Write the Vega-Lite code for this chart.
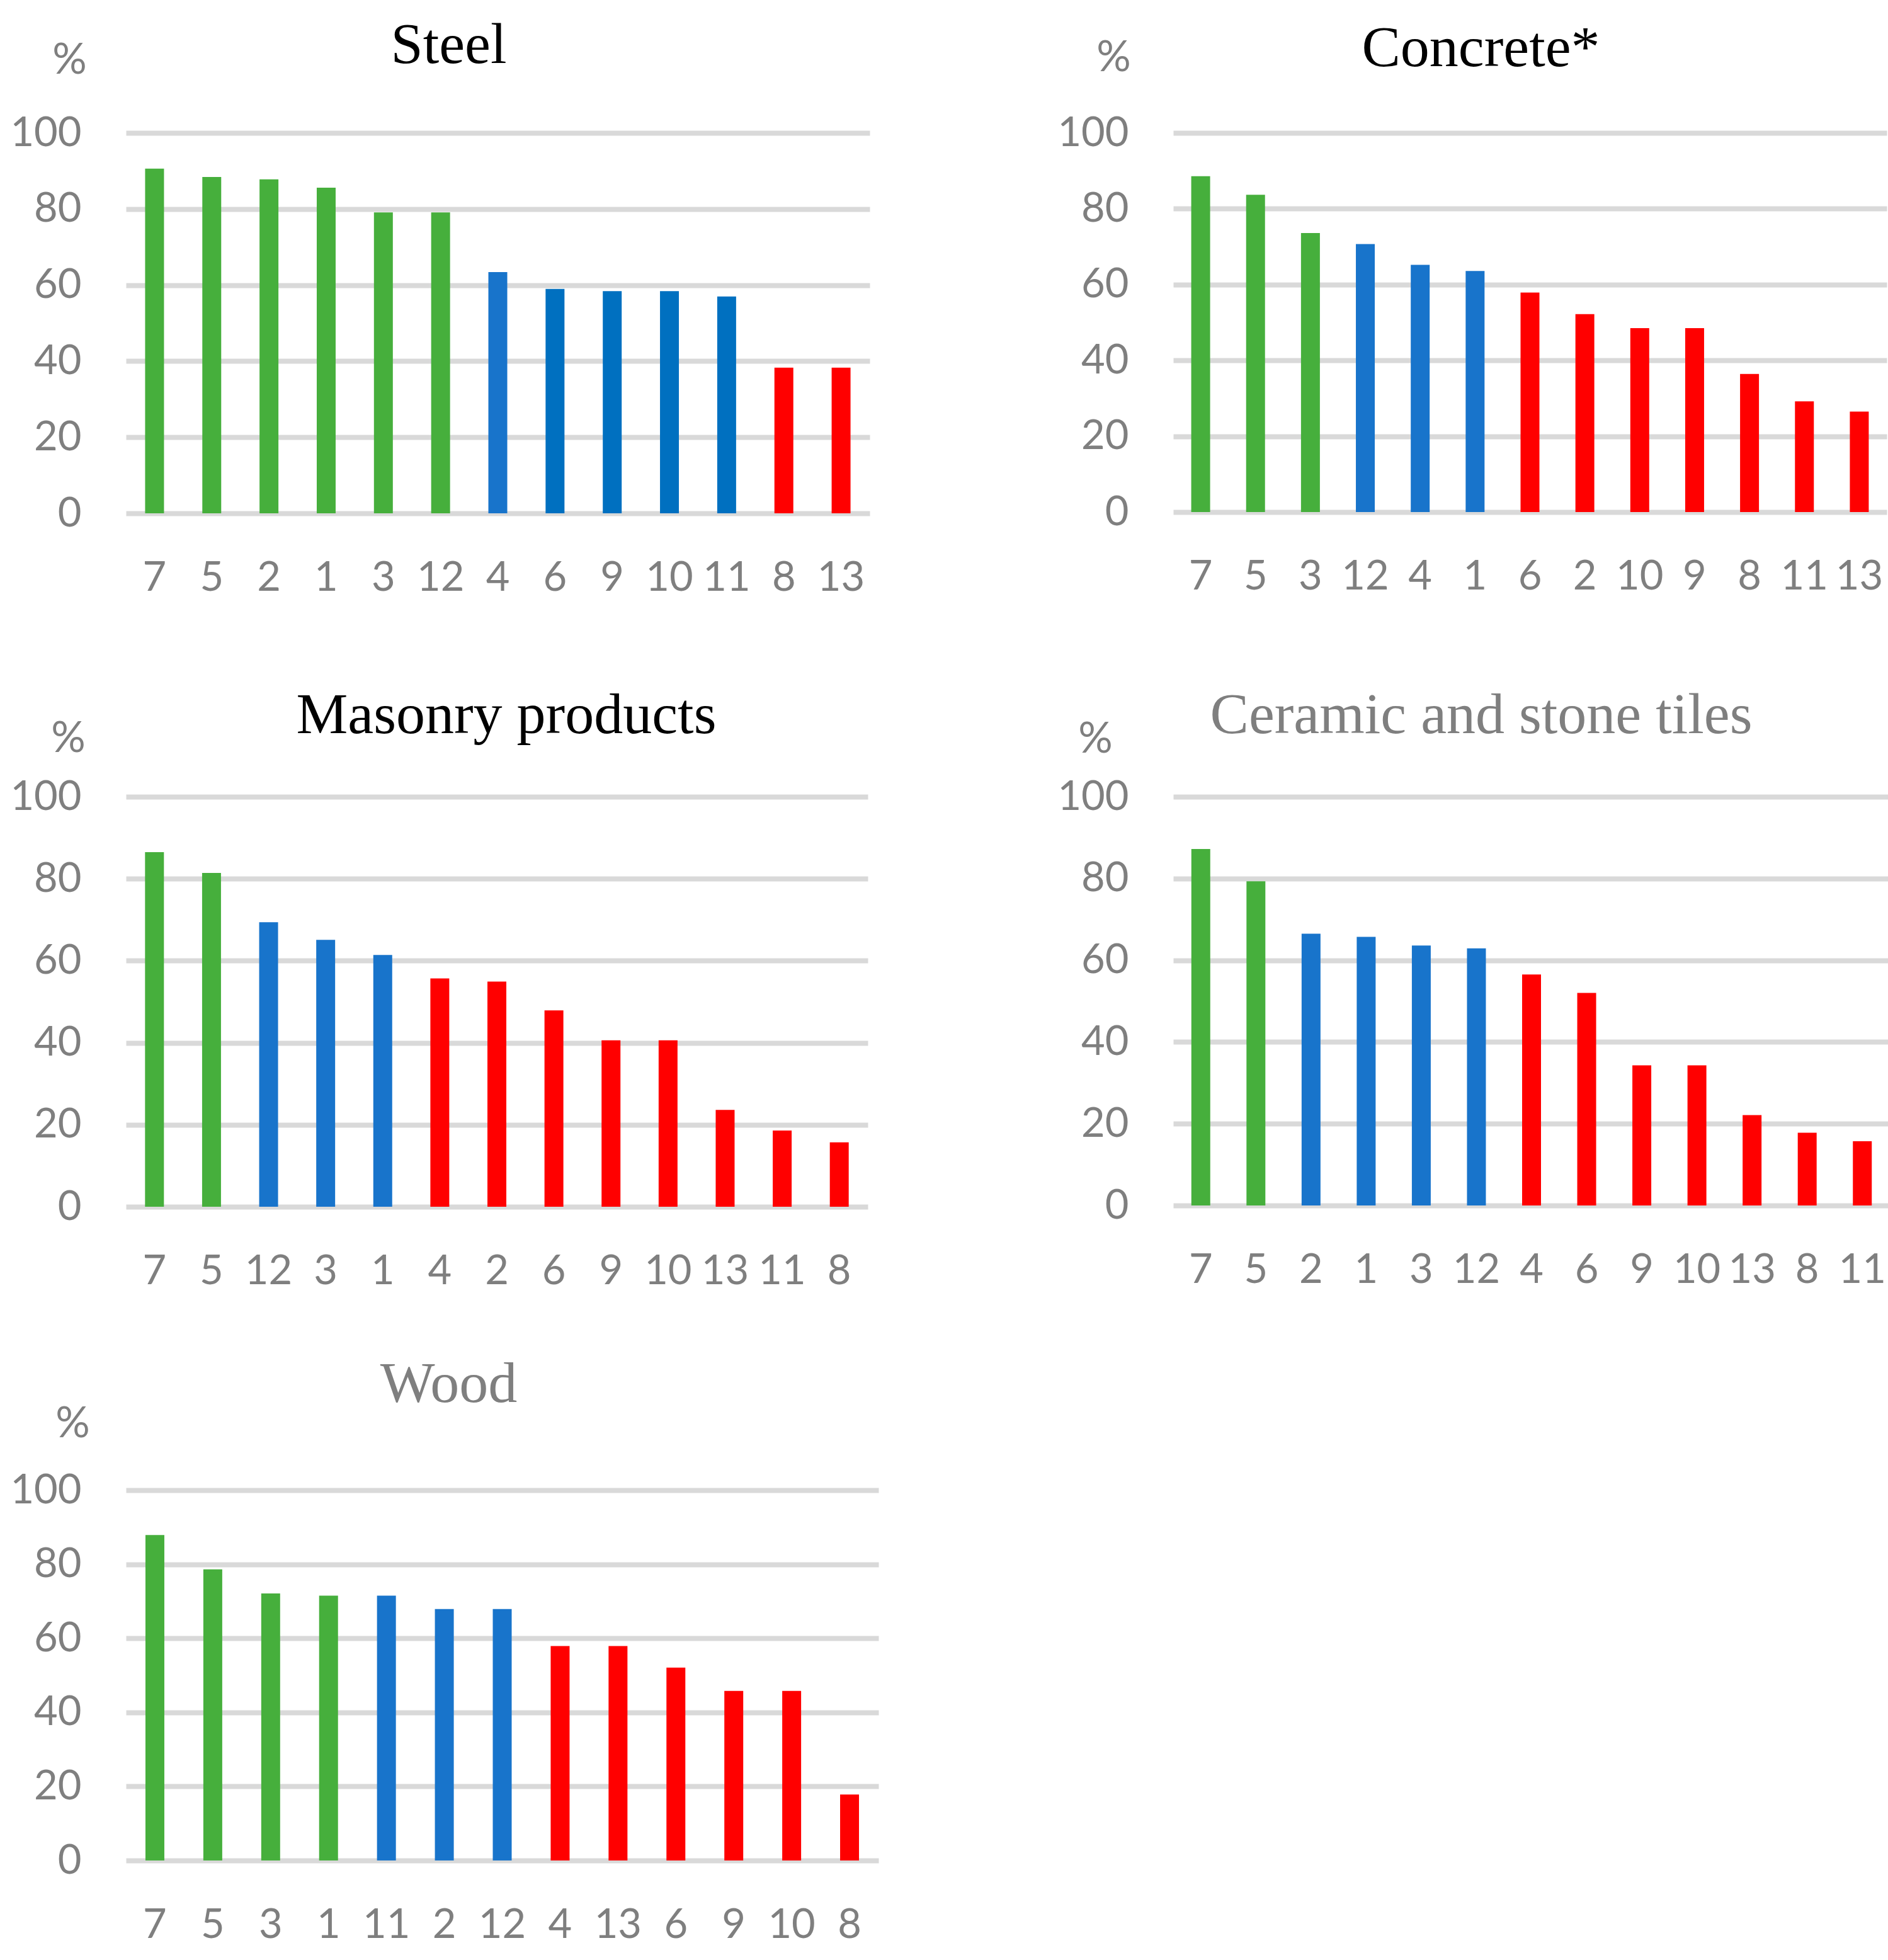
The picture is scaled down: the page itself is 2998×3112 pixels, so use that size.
{
  "$schema": "https://vega.github.io/schema/vega-lite/v6.json",
  "description": "Share (%) per site number for five building materials, bars sorted high to low and coloured by group.",
  "autosize": {"type": "none"},
  "padding": {"left": 200, "top": 211, "right": 2798, "bottom": 2901},
  "background": "white",
  "data": {
    "values": [
      {"panel": "Steel", "site": "7", "value": 90.6, "grp": "high"},
      {"panel": "Steel", "site": "5", "value": 88.4, "grp": "high"},
      {"panel": "Steel", "site": "2", "value": 87.8, "grp": "high"},
      {"panel": "Steel", "site": "1", "value": 85.6, "grp": "high"},
      {"panel": "Steel", "site": "3", "value": 79.1, "grp": "high"},
      {"panel": "Steel", "site": "12", "value": 79.1, "grp": "high"},
      {"panel": "Steel", "site": "4", "value": 63.4, "grp": "mid"},
      {"panel": "Steel", "site": "6", "value": 59.0, "grp": "mid2"},
      {"panel": "Steel", "site": "9", "value": 58.4, "grp": "mid2"},
      {"panel": "Steel", "site": "10", "value": 58.4, "grp": "mid2"},
      {"panel": "Steel", "site": "11", "value": 57.0, "grp": "mid2"},
      {"panel": "Steel", "site": "8", "value": 38.3, "grp": "low"},
      {"panel": "Steel", "site": "13", "value": 38.3, "grp": "low"},

      {"panel": "Concrete", "site": "7", "value": 88.6, "grp": "high"},
      {"panel": "Concrete", "site": "5", "value": 83.7, "grp": "high"},
      {"panel": "Concrete", "site": "3", "value": 73.6, "grp": "high"},
      {"panel": "Concrete", "site": "12", "value": 70.7, "grp": "mid"},
      {"panel": "Concrete", "site": "4", "value": 65.2, "grp": "mid"},
      {"panel": "Concrete", "site": "1", "value": 63.6, "grp": "mid"},
      {"panel": "Concrete", "site": "6", "value": 57.9, "grp": "low"},
      {"panel": "Concrete", "site": "2", "value": 52.2, "grp": "low"},
      {"panel": "Concrete", "site": "10", "value": 48.5, "grp": "low"},
      {"panel": "Concrete", "site": "9", "value": 48.5, "grp": "low"},
      {"panel": "Concrete", "site": "8", "value": 36.4, "grp": "low"},
      {"panel": "Concrete", "site": "11", "value": 29.2, "grp": "low"},
      {"panel": "Concrete", "site": "13", "value": 26.5, "grp": "low"},

      {"panel": "Masonry", "site": "7", "value": 86.5, "grp": "high"},
      {"panel": "Masonry", "site": "5", "value": 81.4, "grp": "high"},
      {"panel": "Masonry", "site": "12", "value": 69.4, "grp": "mid"},
      {"panel": "Masonry", "site": "3", "value": 65.1, "grp": "mid"},
      {"panel": "Masonry", "site": "1", "value": 61.4, "grp": "mid"},
      {"panel": "Masonry", "site": "4", "value": 55.7, "grp": "low"},
      {"panel": "Masonry", "site": "2", "value": 54.9, "grp": "low"},
      {"panel": "Masonry", "site": "6", "value": 47.9, "grp": "low"},
      {"panel": "Masonry", "site": "9", "value": 40.6, "grp": "low"},
      {"panel": "Masonry", "site": "10", "value": 40.6, "grp": "low"},
      {"panel": "Masonry", "site": "13", "value": 23.6, "grp": "low"},
      {"panel": "Masonry", "site": "11", "value": 18.6, "grp": "low"},
      {"panel": "Masonry", "site": "8", "value": 15.7, "grp": "low"},

      {"panel": "Ceramic", "site": "7", "value": 87.2, "grp": "high"},
      {"panel": "Ceramic", "site": "5", "value": 79.3, "grp": "high"},
      {"panel": "Ceramic", "site": "2", "value": 66.5, "grp": "mid"},
      {"panel": "Ceramic", "site": "1", "value": 65.7, "grp": "mid"},
      {"panel": "Ceramic", "site": "3", "value": 63.6, "grp": "mid"},
      {"panel": "Ceramic", "site": "12", "value": 62.9, "grp": "mid"},
      {"panel": "Ceramic", "site": "4", "value": 56.5, "grp": "low"},
      {"panel": "Ceramic", "site": "6", "value": 52.0, "grp": "low"},
      {"panel": "Ceramic", "site": "9", "value": 34.3, "grp": "low"},
      {"panel": "Ceramic", "site": "10", "value": 34.3, "grp": "low"},
      {"panel": "Ceramic", "site": "13", "value": 22.1, "grp": "low"},
      {"panel": "Ceramic", "site": "8", "value": 17.8, "grp": "low"},
      {"panel": "Ceramic", "site": "11", "value": 15.7, "grp": "low"},

      {"panel": "Wood", "site": "7", "value": 87.9, "grp": "high"},
      {"panel": "Wood", "site": "5", "value": 78.6, "grp": "high"},
      {"panel": "Wood", "site": "3", "value": 72.1, "grp": "high"},
      {"panel": "Wood", "site": "1", "value": 71.5, "grp": "high"},
      {"panel": "Wood", "site": "11", "value": 71.5, "grp": "mid"},
      {"panel": "Wood", "site": "2", "value": 67.9, "grp": "mid"},
      {"panel": "Wood", "site": "12", "value": 67.9, "grp": "mid"},
      {"panel": "Wood", "site": "4", "value": 57.9, "grp": "low"},
      {"panel": "Wood", "site": "13", "value": 57.9, "grp": "low"},
      {"panel": "Wood", "site": "6", "value": 52.1, "grp": "low"},
      {"panel": "Wood", "site": "9", "value": 45.8, "grp": "low"},
      {"panel": "Wood", "site": "10", "value": 45.8, "grp": "low"},
      {"panel": "Wood", "site": "8", "value": 17.8, "grp": "low"}
    ]
  },
  "columns": 2,
  "align": "none",
  "bounds": "flush",
  "spacing": {"column": 468, "row": 450},
  "concat": [
    {
      "width": 1181,
      "height": 604,
      "title": {"text": "Steel", "dx": -78, "offset": -57},
      "transform": [{"filter": "datum.panel == 'Steel'"}],
      "mark": {"type": "bar", "width": 30},
      "encoding": {
        "x": {"field": "site", "type": "nominal", "sort": null, "scale": {"paddingInner": 0, "paddingOuter": 0}},
        "y": {"field": "value", "type": "quantitative", "scale": {"domain": [0, 100]},
          "axis": {"values": [0, 20, 40, 60, 80, 100], "title": "%", "titleX": -90, "titleY": -115}},
        "color": {"field": "grp", "type": "nominal", "legend": null,
          "scale": {"domain": ["high", "mid", "mid2", "low"], "range": ["#46AF3C", "#1874CB", "#0070C0", "#FF0000"]}}
      }
    },
    {
      "width": 1133,
      "height": 602,
      "title": {"text": "Concrete*", "dx": -78, "offset": -66},
      "transform": [{"filter": "datum.panel == 'Concrete'"}],
      "mark": {"type": "bar", "width": 30},
      "encoding": {
        "x": {"field": "site", "type": "nominal", "sort": null, "scale": {"paddingInner": 0, "paddingOuter": 0}},
        "y": {"field": "value", "type": "quantitative", "scale": {"domain": [0, 100]},
          "axis": {"values": [0, 20, 40, 60, 80, 100], "title": "%", "titleX": -95, "titleY": -119}},
        "color": {"field": "grp", "type": "nominal", "legend": null}
      }
    },
    {
      "width": 1178,
      "height": 651,
      "title": {"text": "Masonry products", "dx": 15, "offset": -44},
      "transform": [{"filter": "datum.panel == 'Masonry'"}],
      "mark": {"type": "bar", "width": 30},
      "encoding": {
        "x": {"field": "site", "type": "nominal", "sort": null, "scale": {"paddingInner": 0, "paddingOuter": 0}},
        "y": {"field": "value", "type": "quantitative", "scale": {"domain": [0, 100]},
          "axis": {"values": [0, 20, 40, 60, 80, 100], "title": "%", "titleX": -92, "titleY": -92}},
        "color": {"field": "grp", "type": "nominal", "legend": null}
      }
    },
    {
      "width": 1138,
      "height": 649,
      "title": {"text": "Ceramic and stone tiles", "dx": -80, "offset": -43, "color": "#7F7F7F"},
      "transform": [{"filter": "datum.panel == 'Ceramic'"}],
      "mark": {"type": "bar", "width": 30},
      "encoding": {
        "x": {"field": "site", "type": "nominal", "sort": null, "scale": {"paddingInner": 0, "paddingOuter": 0}},
        "y": {"field": "value", "type": "quantitative", "scale": {"domain": [0, 100]},
          "axis": {"values": [0, 20, 40, 60, 80, 100], "title": "%", "titleX": -124, "titleY": -91}},
        "color": {"field": "grp", "type": "nominal", "legend": null}
      }
    },
    {
      "width": 1195,
      "height": 588,
      "title": {"text": "Wood", "dx": -85, "offset": -18, "color": "#7F7F7F"},
      "transform": [{"filter": "datum.panel == 'Wood'"}],
      "mark": {"type": "bar", "width": 30},
      "encoding": {
        "x": {"field": "site", "type": "nominal", "sort": null, "scale": {"paddingInner": 0, "paddingOuter": 0}},
        "y": {"field": "value", "type": "quantitative", "scale": {"domain": [0, 100]},
          "axis": {"values": [0, 20, 40, 60, 80, 100], "title": "%", "titleX": -85, "titleY": -105}},
        "color": {"field": "grp", "type": "nominal", "legend": null}
      }
    }
  ],
  "config": {
    "view": {"stroke": null},
    "title": {"font": "Liberation Serif", "fontSize": 92, "fontWeight": "normal", "color": "#000000", "anchor": "middle", "frame": "group", "baseline": "alphabetic"},
    "axisX": {"title": null, "ticks": false, "domain": false, "grid": false, "labelAngle": 0, "labelFont": "Lato", "labelFontSize": 65, "labelColor": "#7F7F7F", "labelPadding": 71},
    "axisY": {"ticks": false, "domain": false, "grid": true, "gridColor": "#D9D9D9", "gridWidth": 8,
      "labelFont": "Lato", "labelFontSize": 65, "labelColor": "#7F7F7F", "labelPadding": 71,
      "titleAngle": 0, "titleAlign": "center", "titleBaseline": "middle", "titleFont": "Lato", "titleFontSize": 68, "titleFontWeight": "normal", "titleColor": "#7F7F7F"}
  }
}
